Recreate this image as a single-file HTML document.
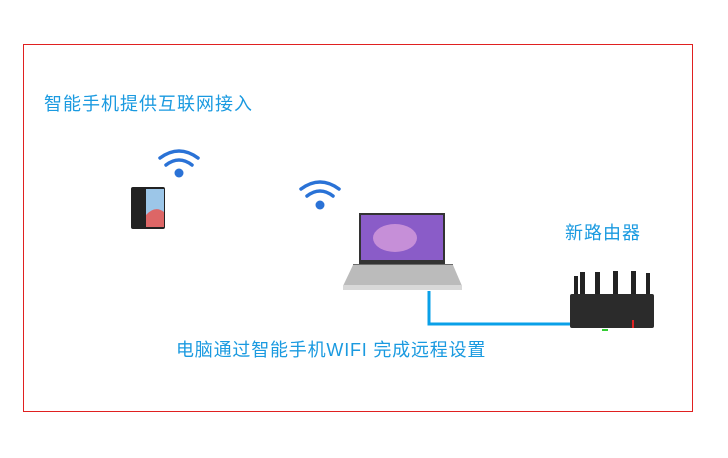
<!DOCTYPE html>
<html><head><meta charset="utf-8"><style>
body{margin:0;width:728px;height:458px;background:#fff;position:relative;overflow:hidden;font-family:"Liberation Sans","Noto Sans CJK SC",sans-serif}
.t{position:absolute;color:#1a9ae0;font-size:18px;white-space:nowrap;line-height:20px}
</style></head><body>
<div style="position:absolute;left:23px;top:44px;width:668px;height:366px;border:1px solid #e02020"></div>
<div class="t" style="left:44px;top:94px;letter-spacing:1px">智能手机提供互联网接入</div>
<div class="t" style="left:565px;top:223px;letter-spacing:1px">新路由器</div>
<div class="t" style="left:176px;top:340px;letter-spacing:0.8px">电脑通过智能手机WIFI 完成远程设置</div>
<svg width="728" height="458" style="position:absolute;left:0;top:0">
<g fill="none" stroke="#2a72d6" stroke-width="3.5" stroke-linecap="round">
<path d="M160 158 Q179 144 198 158"/><path d="M166 165 Q179 155 192 165"/>
<path d="M301 189 Q320 175 339 189"/><path d="M307 196 Q320 186 333 196"/>
</g>
<circle cx="179" cy="173" r="4.5" fill="#2a72d6"/><circle cx="320" cy="205" r="4.5" fill="#2a72d6"/>
<rect x="131" y="187" width="34" height="42" rx="2" fill="#222"/>
<rect x="146" y="189" width="18" height="38" fill="#9cc6e8"/>
<path d="M146 215 Q155 205 164 212 L164 227 L146 227Z" fill="#d66"/>
<rect x="359" y="213" width="86" height="52" fill="#333"/>
<rect x="361" y="215" width="82" height="45" fill="#8a5cc8"/>
<ellipse cx="395" cy="238" rx="22" ry="14" fill="#c68fd8"/>
<rect x="353" y="264" width="100" height="12" fill="#6b6b6b"/>
<path d="M343 286 L353 265 L453 265 L462 286Z" fill="#bbb"/>
<rect x="343" y="285" width="119" height="5" fill="#d8d8d8"/>
<path d="M429 291 V324 H572" fill="none" stroke="#0aa0e8" stroke-width="3"/>
<g fill="#222">
<rect x="574" y="276" width="4" height="20"/><rect x="580" y="272" width="5" height="24"/>
<rect x="595" y="272" width="5" height="24"/><rect x="613" y="271" width="5" height="25"/>
<rect x="631" y="271" width="5" height="25"/><rect x="646" y="273" width="4" height="23"/>
</g>
<rect x="570" y="294" width="84" height="34" rx="2" fill="#2b2b2b"/>
<rect x="632" y="320" width="2" height="8" fill="#d22"/>
<rect x="602" y="329" width="6" height="2" fill="#3c3"/>
</svg>
</body></html>
